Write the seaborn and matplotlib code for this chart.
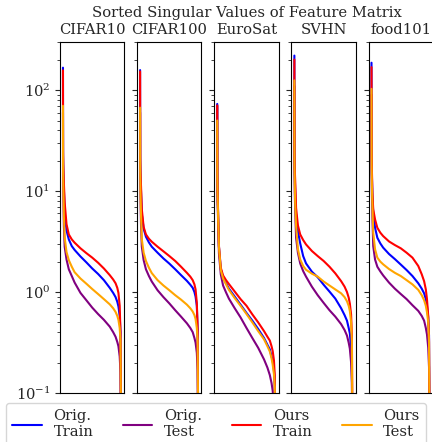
import matplotlib
matplotlib.use("Agg")
import matplotlib.pyplot as plt
from matplotlib.lines import Line2D
import pandas as pd
import seaborn as sns

sv_index = [0, 1, 3, 8, 15, 31, 51, 77, 102, 153, 204, 256, 307, 358, 409,
            439, 460, 475, 485, 496, 503, 511]

datasets = ["CIFAR10", "CIFAR100", "EuroSat", "SVHN", "food101"]
series = ["Orig.\nTrain", "Orig.\nTest", "Ours\nTrain", "Ours\nTest"]
colors = ["blue", "purple", "red", "orange"]

cifar10_orig_train = [167, 22, 16, 10.4, 6.1, 4.08, 3.32, 2.85, 2.61, 2.25, 1.97, 1.71,
                      1.51, 1.31, 1.10, 0.98, 0.89, 0.80, 0.72, 0.58, 0.40, 0.01]
cifar10_orig_test = [60, 14, 9, 4.5, 2.81, 2.1, 1.68, 1.44, 1.24, 0.98, 0.83, 0.70,
                     0.605, 0.53, 0.454, 0.40, 0.36, 0.32, 0.29, 0.23, 0.16, 0.01]
cifar10_ours_train = [157, 25, 18, 12, 7.7, 4.7, 3.72, 3.32, 3.08, 2.71, 2.43, 2.19,
                      1.95, 1.71, 1.47, 1.33, 1.22, 1.10, 0.98, 0.73, 0.40, 0.01]
cifar10_ours_test = [70, 16, 10.5, 5.6, 3.45, 2.49, 2.07, 1.78, 1.57, 1.36, 1.21, 1.07,
                     0.955, 0.85, 0.755, 0.69, 0.634, 0.58, 0.53, 0.44, 0.33, 0.01]

cifar100_orig_train = [158, 20, 15, 10, 5.9, 4.24, 3.53, 3.1, 2.81, 2.45, 2.15, 1.91,
                       1.68, 1.47, 1.29, 1.18, 1.10, 1.0, 0.90, 0.73, 0.43, 0.01]
cifar100_orig_test = [60, 14, 9, 4.6, 2.81, 2.07, 1.68, 1.44, 1.27, 1.04, 0.89, 0.77,
                      0.66, 0.57, 0.49, 0.44, 0.40, 0.35, 0.315, 0.25, 0.17, 0.01]
cifar100_ours_train = [153, 22, 16, 11.2, 6.6, 4.4, 3.72, 3.37, 3.15, 2.81, 2.53, 2.27,
                       2.03, 1.78, 1.55, 1.42, 1.31, 1.19, 1.06, 0.78, 0.43, 0.01]
cifar100_ours_test = [67, 16, 10, 5.8, 3.32, 2.45, 2.03, 1.74, 1.54, 1.31, 1.16, 1.04,
                      0.93, 0.84, 0.75, 0.69, 0.64, 0.59, 0.54, 0.44, 0.33, 0.01]

eurosat_orig_train = [73, 15, 9.5, 5.6, 2.8, 1.68, 1.39, 1.22, 1.08, 0.90, 0.75, 0.62,
                      0.52, 0.43, 0.35, 0.30, 0.27, 0.23, 0.21, 0.166, 0.122, 0.005]
eurosat_orig_test = [71, 13, 8, 4.6, 2.4, 1.5, 1.16, 0.99, 0.86, 0.69, 0.56, 0.44,
                     0.35, 0.28, 0.215, 0.178, 0.15, 0.125, 0.105, 0.07, 0.03, 0.005]
eurosat_ours_train = [70, 16, 10, 6, 2.85, 1.74, 1.46, 1.31, 1.2, 1.01, 0.85, 0.73,
                      0.60, 0.50, 0.41, 0.36, 0.33, 0.29, 0.26, 0.21, 0.15, 0.005]
eurosat_ours_test = [50, 14, 9, 5.4, 2.75, 1.65, 1.36, 1.19, 1.05, 0.87, 0.73, 0.605,
                     0.50, 0.41, 0.34, 0.29, 0.257, 0.22, 0.19, 0.153, 0.113, 0.005]

svhn_orig_train = [220, 22, 15, 8.9, 5.65, 4.0, 3.03, 2.27, 1.92, 1.59, 1.40, 1.18,
                   1.01, 0.86, 0.69, 0.59, 0.52, 0.44, 0.39, 0.28, 0.185, 0.005]
svhn_orig_test = [110, 15, 10, 6, 3.45, 2.45, 1.92, 1.61, 1.42, 1.13, 0.93, 0.78,
                  0.66, 0.57, 0.48, 0.42, 0.37, 0.315, 0.275, 0.2, 0.126, 0.005]
svhn_ours_train = [201, 25, 17, 12, 6.8, 4.57, 3.72, 3.27, 2.96, 2.55, 2.27, 2.03,
                   1.78, 1.53, 1.28, 1.13, 1.0, 0.88, 0.77, 0.60, 0.37, 0.01]
svhn_ours_test = [125, 18, 12, 7, 4.5, 2.65, 2.1, 1.81, 1.66, 1.52, 1.42, 1.27,
                  1.16, 1.06, 0.97, 0.89, 0.81, 0.73, 0.65, 0.50, 0.32, 0.005]

food101_orig_train = [187, 22, 15, 8.9, 6.1, 4.33, 3.45, 3.03, 2.75, 2.38, 2.12, 1.87,
                      1.65, 1.44, 1.22, 1.08, 0.97, 0.85, 0.73, 0.56, 0.37, 0.01]
food101_orig_test = [90, 15, 10, 5.5, 2.85, 2.1, 1.78, 1.6, 1.46, 1.24, 1.08, 0.955,
                     0.85, 0.74, 0.65, 0.58, 0.52, 0.44, 0.38, 0.28, 0.18, 0.01]
food101_ours_train = [169, 24, 17, 9.6, 6.6, 5.24, 4.33, 3.87, 3.58, 3.17, 2.92, 2.71,
                      2.45, 2.19, 1.81, 1.5, 1.28, 1.06, 0.85, 0.58, 0.34, 0.01]
food101_ours_test = [103, 18, 12, 7, 3.87, 2.65, 2.19, 2.0, 1.88, 1.69, 1.55, 1.44,
                     1.31, 1.19, 1.05, 0.93, 0.83, 0.73, 0.63, 0.50, 0.32, 0.01]

curves = {
    "CIFAR10": [cifar10_orig_train, cifar10_orig_test, cifar10_ours_train, cifar10_ours_test],
    "CIFAR100": [cifar100_orig_train, cifar100_orig_test, cifar100_ours_train, cifar100_ours_test],
    "EuroSat": [eurosat_orig_train, eurosat_orig_test, eurosat_ours_train, eurosat_ours_test],
    "SVHN": [svhn_orig_train, svhn_orig_test, svhn_ours_train, svhn_ours_test],
    "food101": [food101_orig_train, food101_orig_test, food101_ours_train, food101_ours_test],
}

rows = []
for name in datasets:
    for label, vals in zip(series, curves[name]):
        for i, v in zip(sv_index, vals):
            rows.append({"dataset": name, "series": label, "index": i, "value": v})
df = pd.DataFrame(rows)

sns.set_style("ticks")
plt.rcParams["font.family"] = "DejaVu Serif"
plt.rcParams["mathtext.fontset"] = "dejavuserif"
plt.rcParams["font.size"] = 10.6
plt.rcParams["axes.edgecolor"] = "black"

fig, axes = plt.subplots(1, 5, sharey=True, figsize=(4.32, 4.42), dpi=100)
fig.subplots_adjust(left=0.139, right=1.002, bottom=0.111, top=0.905, wspace=0.2)

for ax, name in zip(axes, datasets):
    ax.set_yscale("log")
    sns.lineplot(data=df[df.dataset == name], x="index", y="value", hue="series",
                 hue_order=series, palette=colors, linewidth=1.5,
                 estimator=None, errorbar=None, legend=False, ax=ax)
    ax.set_ylim(0.1, 300)
    ax.set_xticks([])
    ax.set_xlabel("")
    ax.set_ylabel("")
    ax.set_title(name, fontsize=10.6)

fig.suptitle("Sorted Singular Values of Feature Matrix", x=0.571, y=0.986, fontsize=10.6)

handles = [Line2D([0], [0], color=c, lw=1.5) for c in colors]
fig.legend(handles, series, loc="upper center", bbox_to_anchor=(0.5, 0.104),
           ncol=4, fontsize=10.6)

fig.savefig("out.png", dpi=100)
